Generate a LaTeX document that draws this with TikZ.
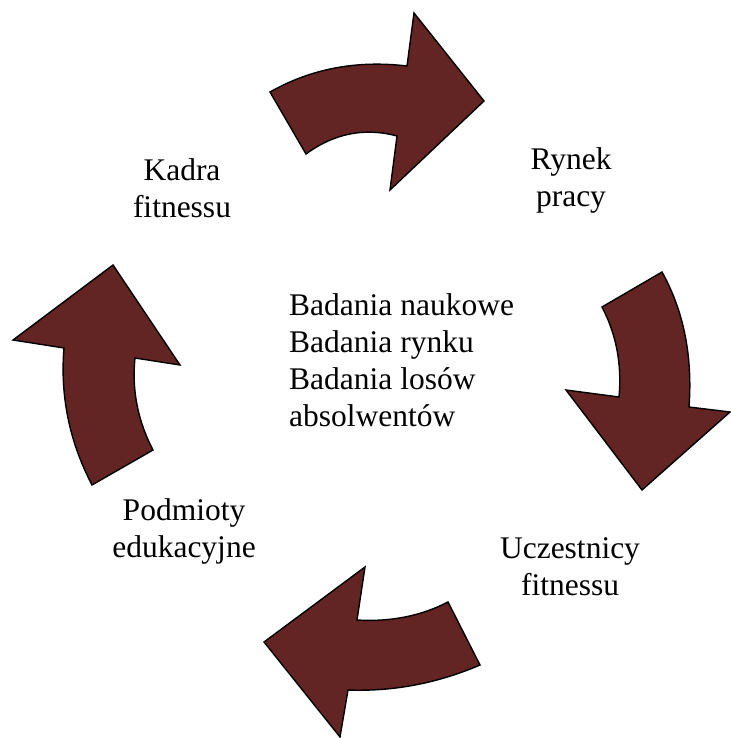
\documentclass[tikz,border=0pt]{standalone}
\usepackage{fontspec}
\setmainfont{Liberation Serif}
\definecolor{maroon}{RGB}{99,37,35}
\begin{document}
\begin{tikzpicture}[x=1pt,y=-1pt,
  arr/.style={fill=maroon,draw=black,line width=1.4pt,line join=miter},
  lbl/.style={inner sep=0pt,align=center,font=\fontsize{31.5}{37}\selectfont,anchor=base},
  ctr/.style={inner sep=0pt,align=left,font=\fontsize{31.5}{37}\selectfont,anchor=base west}]
\useasboundingbox (0,0) rectangle (730,738);
% top arrow
\draw[arr] (270,92) .. controls (311,68.7) and (356.7,60) .. (407,66) -- (414,13) -- (484,101)
  -- (390,190) -- (397,136) .. controls (364.7,127.3) and (334.3,133.3) .. (306,154) -- cycle;
% right arrow
\draw[arr] (602,307) -- (662,272) .. controls (683.7,311) and (692.7,356) .. (689,407) -- (730,412)
  -- (642,490) -- (566,390) -- (619,397) .. controls (622,364.3) and (616.3,334.3) .. (602,307) -- cycle;
% bottom arrow
\draw[arr] (448,602) .. controls (421,616) and (390.7,622) .. (357,620) -- (365,567) -- (264,642)
  -- (340,737) -- (348,690) .. controls (393.3,691.7) and (437.3,683.3) .. (480,665) -- cycle;
% left arrow
\draw[arr] (113,265) -- (180,365) -- (135,358) .. controls (131.7,390) and (137.7,420.7) .. (153,450)
  -- (92,485) .. controls (69.3,441.3) and (60,395.7) .. (64,348) -- (13,340) -- cycle;
% labels (anchor base = last line)
\node[lbl] (kadra) at (182,217) {Kadra\\fitnessu};
\node[lbl] (rynek) at (571,206) {Rynek\\pracy};
\node[lbl] (ucz) at (570,595) {Uczestnicy\\fitnessu};
\node[lbl] (podm) at (184,557) {Podmioty\\edukacyjne};
\node[ctr] (bad) at (289,426) {Badania naukowe\\Badania rynku\\Badania losów\\absolwentów};
\end{tikzpicture}
\end{document}
